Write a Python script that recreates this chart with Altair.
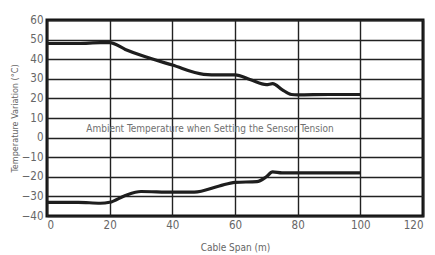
import altair as alt
import pandas as pd

upper_x = [0, 10, 17, 20, 25, 30, 40, 50, 55, 60, 65, 70, 72, 75, 78, 80, 90, 100]
upper_y = [48, 48, 48.5, 48.5, 45, 42, 37, 32.3, 32, 32, 29.5, 27, 27.5, 24.5, 22, 21.8, 22, 22]
lower_x = [0, 10, 17, 20, 25, 30, 40, 47, 55, 60, 67, 70, 72, 75, 80, 90, 100]
lower_y = [-33, -33, -33.5, -33, -29.5, -27.5, -27.8, -27.8, -24.7, -22.8, -22.5, -20, -17.5, -18, -18, -18, -18]

x_ticks = [0, 20, 40, 60, 80, 100, 120]
y_ticks = [-40, -30, -20, -10, 0, 10, 20, 30, 40, 50, 60]

note_text = ["Ambient Temperature when Setting the Sensor Tension"]
note_x = [52]
note_y = [4.4]

df = pd.concat([
    pd.DataFrame({"span": upper_x, "temp": upper_y, "series": "upper"}),
    pd.DataFrame({"span": lower_x, "temp": lower_y, "series": "lower"}),
])
note = pd.DataFrame({"span": note_x, "temp": note_y, "text": note_text})

FONT = "DejaVu Sans Condensed"

x = alt.X("span:Q", scale=alt.Scale(domain=[0, 120], nice=False),
          axis=alt.Axis(values=x_ticks, tickCount=7, title="Cable Span (m)"))
y = alt.Y("temp:Q", scale=alt.Scale(domain=[-40, 60], nice=False),
          axis=alt.Axis(values=y_ticks, tickCount=11, title="Temperature Variation (°C)"))

lines = alt.Chart(df).mark_line(color="#1e1e1e", strokeWidth=3.2, interpolate="monotone").encode(
    x=x, y=y, detail="series:N")

text = alt.Chart(note).mark_text(font=FONT, fontSize=10, color="#707070").encode(
    x=x, y=y, text="text:N")

chart = alt.layer(lines, text).properties(
    width=376, height=196,
    autosize=alt.AutoSizeParams(type="none"),
    padding={"left": 39, "top": 12, "right": 4, "bottom": 40},
).configure_view(
    stroke="#111", strokeWidth=3
).configure_axis(
    grid=True, gridColor="#222", gridWidth=1.4, gridOpacity=1,
    domain=False, ticks=False, labelOverlap=False,
    labelFont=FONT, labelFontSize=11.5, labelColor="#666",
    titleFont=FONT, titleColor="#666", titleFontWeight="normal",
).configure_axisX(
    labelPadding=3, titlePadding=12, titleFontSize=10
).configure_axisY(
    labelPadding=4, titlePadding=2, titleFontSize=9
)

chart.save("out.html", embed_options={"renderer": "svg", "actions": False})
